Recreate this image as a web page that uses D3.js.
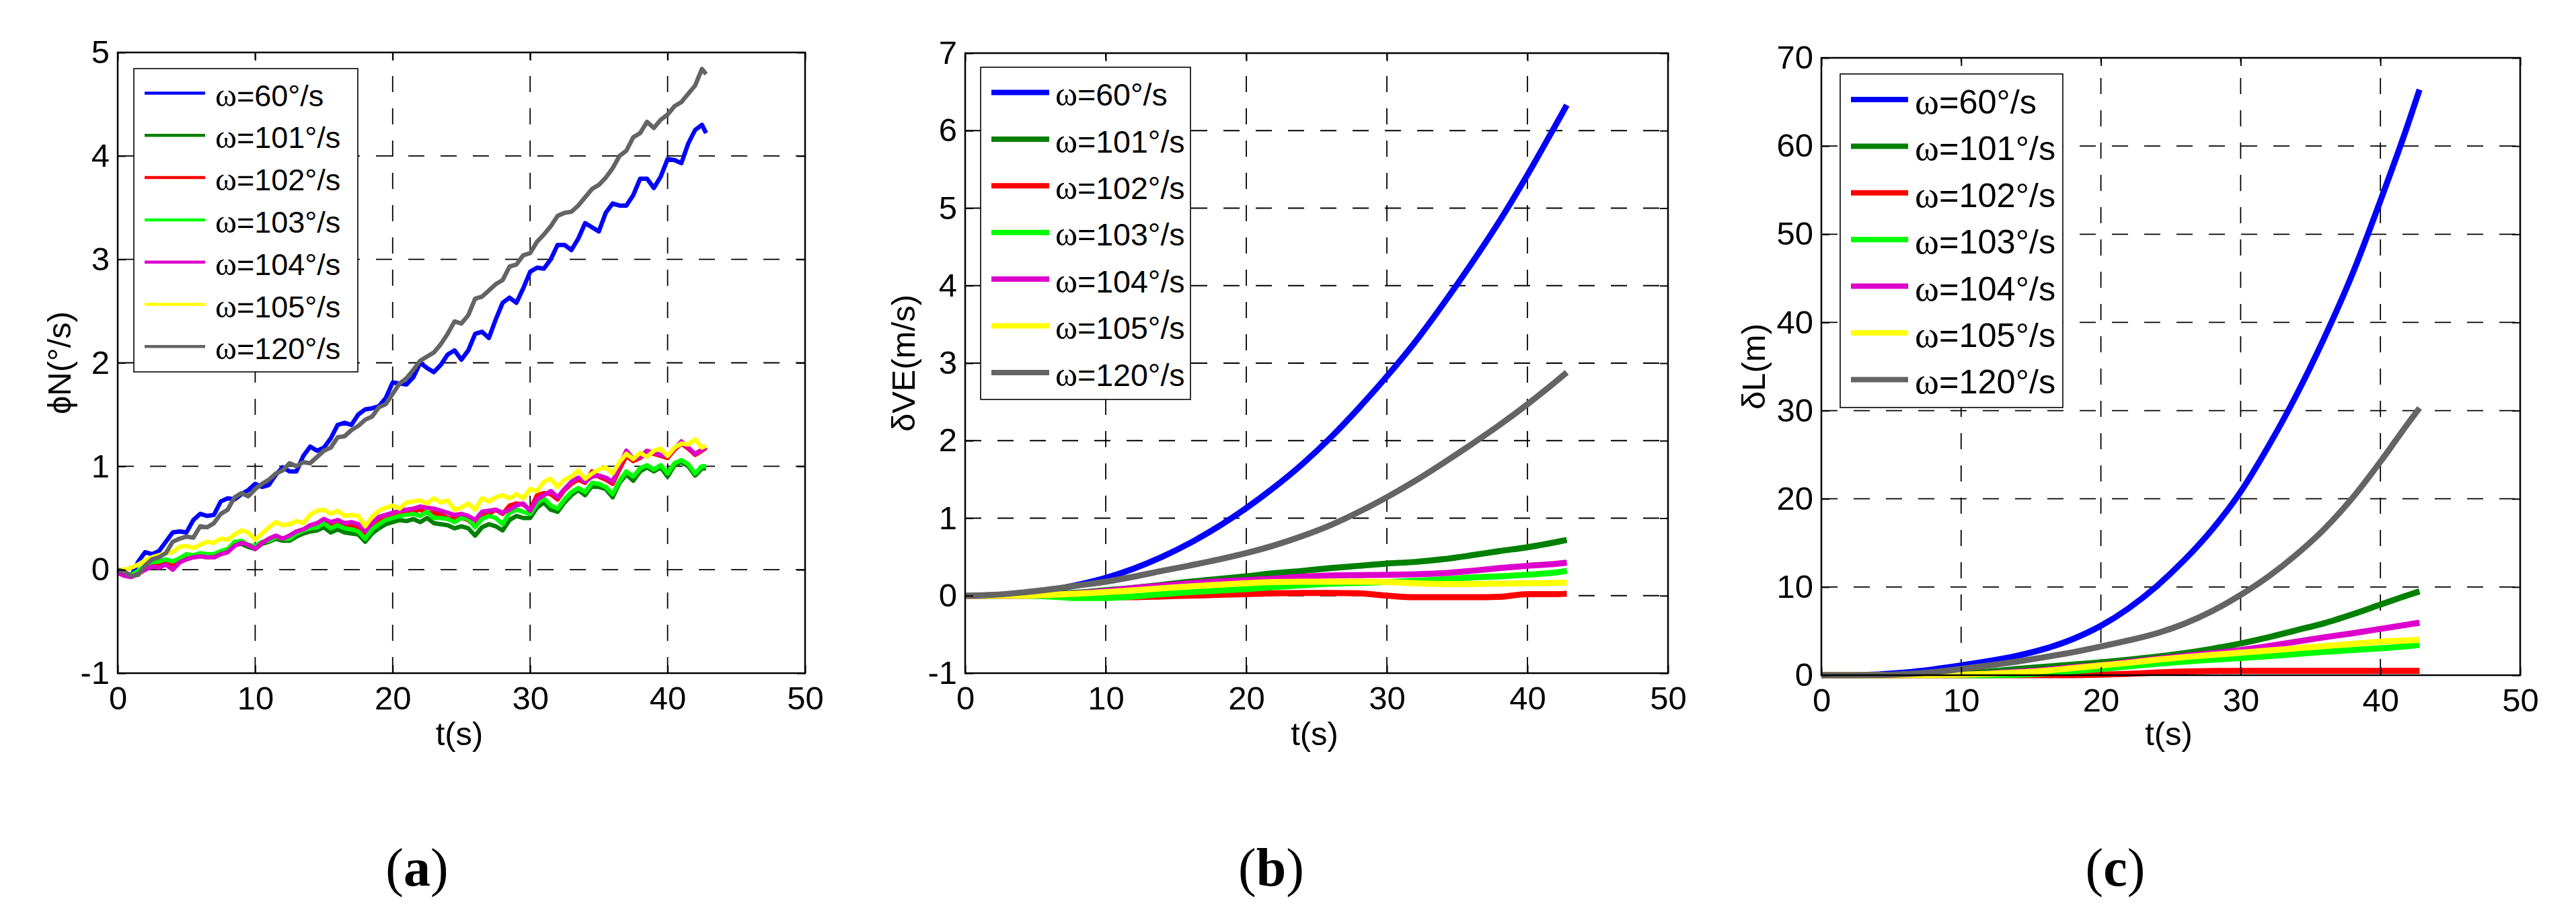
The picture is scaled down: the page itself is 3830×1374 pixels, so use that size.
<!DOCTYPE html>
<html>
<head>
<meta charset="utf-8">
<script src="https://cdn.jsdelivr.net/npm/d3@7"></script>
<style>
  body { margin: 0; background: #fff; }
  svg text { font-family: "Liberation Sans", Arial, sans-serif; fill: #000; }
</style>
</head>
<body>
<div id="chart"></div>
<script>
// series labels / colours (same order in every panel)
const seriesLabels = ["=60°/s", "=101°/s", "=102°/s", "=103°/s", "=104°/s", "=105°/s", "=120°/s"];
const seriesColors = ["#0000ff", "#008000", "#ff0000", "#00ff00", "#dd00cc", "#ffff00", "#646464"];

const xTicks = [0, 10, 20, 30, 40, 50];
const yTicksA = [-1, 0, 1, 2, 3, 4, 5];
const yTicksB = [-1, 0, 1, 2, 3, 4, 5, 6, 7];
const yTicksC = [0, 10, 20, 30, 40, 50, 60, 70];

// (a) phiN, sampled every 0.5 s, last sample at 42.8 s
const tA = d3.range(0, 42.6, 0.5).concat([42.8]);

const phiN60 = [0.00,-0.05,-0.06,0.08,0.17,0.15,0.18,0.27,0.36,0.37,
  0.36,0.48,0.54,0.52,0.53,0.66,0.69,0.68,0.73,0.77,
  0.83,0.80,0.82,0.92,0.99,0.95,0.95,1.10,1.19,1.15,
  1.18,1.27,1.40,1.42,1.40,1.50,1.55,1.56,1.58,1.66,
  1.81,1.80,1.79,1.86,2.00,1.95,1.91,1.98,2.08,2.12,
  2.03,2.12,2.28,2.30,2.24,2.42,2.58,2.63,2.58,2.72,
  2.88,2.92,2.91,3.00,3.14,3.14,3.09,3.20,3.35,3.31,
  3.27,3.45,3.54,3.52,3.52,3.62,3.78,3.78,3.69,3.80,
  3.97,3.96,3.93,4.12,4.25,4.30,4.22];
const phiN101 = [-0.03,-0.05,-0.06,-0.03,0.02,0.05,0.06,0.08,0.06,0.09,
  0.12,0.12,0.14,0.12,0.12,0.15,0.18,0.24,0.25,0.22,
  0.20,0.25,0.27,0.30,0.28,0.28,0.32,0.35,0.37,0.38,
  0.41,0.36,0.39,0.36,0.35,0.34,0.27,0.35,0.40,0.44,
  0.46,0.48,0.47,0.49,0.46,0.50,0.45,0.44,0.43,0.40,
  0.42,0.40,0.33,0.41,0.44,0.42,0.38,0.48,0.52,0.50,
  0.50,0.60,0.65,0.58,0.56,0.65,0.72,0.77,0.72,0.81,
  0.80,0.78,0.70,0.84,0.92,0.86,0.95,0.99,0.95,0.99,
  0.90,1.01,1.04,1.00,0.91,0.98,0.98];
const phiN102 = [-0.03,-0.05,-0.06,-0.02,0.02,0.05,0.06,0.07,0.05,0.09,
  0.12,0.13,0.14,0.13,0.14,0.17,0.19,0.24,0.26,0.24,
  0.21,0.26,0.29,0.32,0.30,0.32,0.36,0.38,0.41,0.43,
  0.46,0.43,0.45,0.42,0.42,0.40,0.31,0.41,0.47,0.50,
  0.52,0.53,0.55,0.56,0.58,0.55,0.55,0.53,0.50,0.49,
  0.50,0.48,0.42,0.52,0.54,0.58,0.54,0.62,0.64,0.63,
  0.58,0.72,0.74,0.73,0.68,0.77,0.83,0.87,0.84,0.95,
  0.90,0.87,0.83,0.97,1.10,1.05,1.08,1.13,1.12,1.10,
  1.08,1.16,1.22,1.17,1.11,1.15,1.18];
const phiN103 = [-0.02,-0.04,-0.05,-0.01,0.04,0.07,0.08,0.10,0.08,0.11,
  0.15,0.14,0.16,0.15,0.15,0.18,0.20,0.27,0.28,0.24,
  0.23,0.27,0.28,0.32,0.30,0.30,0.35,0.38,0.40,0.41,
  0.45,0.40,0.43,0.40,0.39,0.37,0.30,0.39,0.44,0.48,
  0.50,0.52,0.53,0.54,0.52,0.56,0.50,0.50,0.49,0.46,
  0.50,0.49,0.41,0.49,0.52,0.50,0.44,0.55,0.58,0.56,
  0.54,0.64,0.69,0.62,0.59,0.68,0.75,0.79,0.75,0.84,
  0.83,0.80,0.73,0.86,0.95,0.90,0.98,1.01,0.97,1.01,
  0.93,1.03,1.06,1.02,0.93,1.00,1.00];
const phiN104 = [-0.03,-0.06,-0.07,-0.04,0.00,0.03,0.02,0.05,0.00,0.07,
  0.10,0.12,0.13,0.12,0.12,0.15,0.17,0.23,0.26,0.24,
  0.20,0.26,0.30,0.33,0.30,0.33,0.37,0.39,0.43,0.45,
  0.49,0.46,0.48,0.45,0.46,0.44,0.37,0.45,0.51,0.53,
  0.55,0.57,0.58,0.59,0.61,0.60,0.59,0.57,0.55,0.53,
  0.54,0.52,0.48,0.56,0.57,0.58,0.55,0.58,0.62,0.64,
  0.57,0.68,0.72,0.76,0.70,0.78,0.85,0.89,0.85,0.90,
  0.91,0.89,0.85,1.01,1.15,1.07,1.09,1.15,1.13,1.11,
  1.10,1.17,1.24,1.18,1.12,1.16,1.19];
const phiN105 = [0.00,0.00,0.02,0.05,0.09,0.12,0.14,0.16,0.17,0.22,
  0.23,0.21,0.24,0.27,0.26,0.30,0.29,0.34,0.38,0.36,
  0.29,0.35,0.41,0.46,0.43,0.44,0.47,0.45,0.53,0.57,
  0.58,0.54,0.57,0.52,0.53,0.52,0.42,0.51,0.57,0.60,
  0.62,0.59,0.65,0.66,0.67,0.64,0.69,0.65,0.67,0.58,
  0.60,0.64,0.58,0.69,0.66,0.70,0.72,0.69,0.73,0.69,
  0.78,0.76,0.85,0.88,0.80,0.87,0.90,0.96,0.88,0.93,
  0.97,0.99,0.93,1.04,1.12,1.07,1.13,1.09,1.15,1.17,
  1.10,1.18,1.22,1.21,1.26,1.18,1.20];
const phiN120 = [0.00,-0.02,-0.06,-0.05,0.04,0.10,0.12,0.16,0.27,0.30,
  0.32,0.31,0.42,0.41,0.45,0.54,0.58,0.70,0.74,0.71,
  0.78,0.83,0.87,0.93,0.96,1.03,1.00,1.04,1.03,1.09,
  1.15,1.18,1.28,1.29,1.35,1.39,1.45,1.48,1.57,1.60,
  1.70,1.80,1.85,1.93,2.02,2.06,2.10,2.18,2.28,2.40,
  2.38,2.46,2.62,2.64,2.70,2.76,2.80,2.93,2.95,3.04,
  3.06,3.17,3.24,3.32,3.42,3.45,3.46,3.52,3.60,3.68,
  3.72,3.79,3.88,4.00,4.05,4.18,4.22,4.33,4.27,4.35,
  4.40,4.48,4.52,4.60,4.68,4.84,4.79];

// (b) and (c) share the time samples
const tBC = [0,2,4,6,8,10,12,14,16,18,20,22,24,26,28,30,32,34,36,38,40,42,42.8];

const dVE60  = [0,0.005,0.03,0.07,0.14,0.23,0.35,0.50,0.68,0.89,1.13,1.40,1.70,2.04,2.42,2.83,3.27,3.76,4.28,4.83,5.43,6.07,6.33];
const dVE101 = [0,0,0.01,0.02,0.04,0.07,0.10,0.14,0.18,0.215,0.25,0.29,0.32,0.355,0.385,0.415,0.435,0.47,0.52,0.575,0.625,0.69,0.72];
const dVE102 = [0,0,0,0,-0.01,-0.015,-0.02,-0.01,0,0.01,0.02,0.03,0.035,0.035,0.03,0,-0.02,-0.02,-0.02,-0.015,0.02,0.02,0.025];
const dVE103 = [0,0,0,-0.01,-0.03,-0.03,-0.01,0.02,0.045,0.065,0.085,0.11,0.135,0.155,0.165,0.175,0.19,0.21,0.235,0.25,0.27,0.30,0.32];
const dVE104 = [0,0,0,0.01,0.03,0.06,0.10,0.13,0.16,0.185,0.20,0.22,0.245,0.26,0.265,0.27,0.275,0.29,0.32,0.355,0.385,0.41,0.425];
const dVE105 = [0,0,0,0.01,0.025,0.045,0.07,0.095,0.12,0.14,0.16,0.175,0.18,0.18,0.18,0.175,0.16,0.15,0.15,0.155,0.16,0.165,0.17];
const dVE120 = [0,0.01,0.04,0.08,0.13,0.18,0.245,0.32,0.39,0.465,0.55,0.65,0.77,0.91,1.08,1.27,1.48,1.71,1.95,2.20,2.47,2.76,2.88];

const dL60  = [0,0,0.08,0.3,0.65,1.1,1.6,2.2,3.0,4.1,5.6,7.6,10.1,13.1,16.6,20.8,26.0,31.8,38.3,45.5,53.8,62.6,66.4];
const dL101 = [0,0,0,0,0.05,0.2,0.4,0.7,0.95,1.2,1.45,1.75,2.1,2.5,3.0,3.6,4.3,5.1,5.9,6.9,8.0,9.1,9.5];
const dL102 = [0,0,0,0,0,0,0,0,0,0,0.05,0.15,0.3,0.42,0.48,0.5,0.5,0.5,0.5,0.5,0.5,0.5,0.5];
const dL103 = [0,0,0,0,0,0,0,0.05,0.2,0.45,0.7,1.0,1.3,1.55,1.75,1.95,2.15,2.4,2.65,2.85,3.05,3.3,3.45];
const dL104 = [0,0,0,0,0,0.05,0.2,0.4,0.6,0.9,1.15,1.5,1.85,2.2,2.5,2.85,3.3,3.8,4.3,4.75,5.25,5.75,5.95];
const dL105 = [0,0,0,0,0,0.05,0.15,0.3,0.5,0.8,1.1,1.4,1.75,2.05,2.3,2.55,2.8,3.05,3.3,3.55,3.8,3.95,4.0];
const dL120 = [0,0,0.02,0.12,0.35,0.7,1.1,1.55,2.05,2.6,3.25,3.95,4.75,5.85,7.3,9.1,11.2,13.7,16.6,20.1,24.2,28.6,30.3];

const W = 3830, H = 1374;

const panels = [
  {
    caption: "a", captionX: 620, yLabel: "ϕN(°/s)", yLabelX: 105,
    box: { left: 175, right: 1197, top: 78, bottom: 1001 },
    yDomain: [-1, 5], yTicks: yTicksA,
    t: tA, series: [phiN60, phiN101, phiN102, phiN103, phiN104, phiN105, phiN120],
    lineWidth: 6.5, curve: d3.curveLinear,
    legend: { left: 199, top: 102, width: 333, height: 451, row0: 138.5, step: 62.8,
              lx0: 215, lx1: 305, tx: 320, fontSize: 45, lw: 4.5 }
  },
  {
    caption: "b", captionX: 1890, yLabel: "δVE(m/s)", yLabelX: 1360,
    box: { left: 1435, right: 2480, top: 79, bottom: 1001 },
    yDomain: [-1, 7], yTicks: yTicksB,
    t: tBC, series: [dVE60, dVE101, dVE102, dVE103, dVE104, dVE105, dVE120],
    lineWidth: 9, curve: d3.curveMonotoneX,
    legend: { left: 1458, top: 100, width: 312, height: 494, row0: 137.5, step: 69.4,
              lx0: 1474, lx1: 1560, tx: 1569, fontSize: 46.5, lw: 8 }
  },
  {
    caption: "c", captionX: 3145, yLabel: "δL(m)", yLabelX: 2624,
    box: { left: 2708, right: 3747, top: 86, bottom: 1004 },
    yDomain: [0, 70], yTicks: yTicksC,
    t: tBC, series: [dL60, dL101, dL102, dL103, dL104, dL105, dL120],
    lineWidth: 9, curve: d3.curveMonotoneX,
    legend: { left: 2736, top: 110, width: 331, height: 496, row0: 148, step: 69.4,
              lx0: 2752, lx1: 2837, tx: 2847, fontSize: 50.5, lw: 8 }
  }
];

const svg = d3.select("#chart").append("svg")
  .attr("width", W).attr("height", H)
  .attr("viewBox", `0 0 ${W} ${H}`);

svg.append("rect").attr("width", W).attr("height", H).attr("fill", "#fff");

function styleAxis(sel, fontSize) {
  sel.attr("font-size", fontSize).attr("font-family", null);
  sel.select(".domain").remove();
  sel.selectAll(".tick line").attr("stroke", "#000").attr("stroke-width", 2);
  sel.selectAll(".tick text").attr("fill", "#000");
}

const plainNum = d => String(d);

function drawPanel(p) {
  const b = p.box;
  const x = d3.scaleLinear().domain([0, 50]).range([b.left, b.right]);
  const y = d3.scaleLinear().domain(p.yDomain).range([b.bottom, b.top]);
  const g = svg.append("g");

  // dashed grid at the inner ticks
  const grid = g.append("g").attr("stroke", "#000").attr("stroke-width", 1.8)
    .attr("stroke-dasharray", "24,24");
  grid.selectAll(".gx").data(xTicks.slice(1, -1)).join("line")
    .attr("x1", d => x(d)).attr("x2", d => x(d))
    .attr("y1", b.bottom).attr("y2", b.top);
  grid.selectAll(".gy").data(p.yTicks.slice(1, -1)).join("line")
    .attr("x1", b.left).attr("x2", b.right)
    .attr("y1", d => y(d)).attr("y2", d => y(d));

  // data lines, drawn in legend order so the later ones sit on top
  const line = d3.line()
    .x((d, i) => x(p.t[i]))
    .y(d => y(d))
    .curve(p.curve);

  g.append("g").selectAll("path").data(p.series).join("path")
    .attr("d", line)
    .attr("fill", "none")
    .attr("stroke", (d, i) => seriesColors[i])
    .attr("stroke-width", p.lineWidth)
    .attr("stroke-linejoin", "round");

  // axes with inward ticks on all four sides
  g.append("g").attr("transform", `translate(0,${b.bottom})`)
    .call(d3.axisBottom(x).tickValues(xTicks).tickFormat(plainNum)
      .tickSizeInner(-12).tickSizeOuter(0).tickPadding(19))
    .call(a => styleAxis(a, 49));
  g.append("g").attr("transform", `translate(${b.left},0)`)
    .call(d3.axisLeft(y).tickValues(p.yTicks).tickFormat(plainNum)
      .tickSizeInner(-12).tickSizeOuter(0).tickPadding(12))
    .call(a => styleAxis(a, 49));
  g.append("g").attr("transform", `translate(0,${b.top})`)
    .call(d3.axisTop(x).tickValues(xTicks).tickSizeInner(-12).tickSizeOuter(0).tickFormat(""))
    .call(a => styleAxis(a, 49));
  g.append("g").attr("transform", `translate(${b.right},0)`)
    .call(d3.axisRight(y).tickValues(p.yTicks).tickSizeInner(-12).tickSizeOuter(0).tickFormat(""))
    .call(a => styleAxis(a, 49));

  g.append("rect")
    .attr("x", b.left).attr("y", b.top)
    .attr("width", b.right - b.left).attr("height", b.bottom - b.top)
    .attr("fill", "none").attr("stroke", "#000").attr("stroke-width", 2.5);

  // axis titles
  g.append("text")
    .attr("x", (b.left + b.right) / 2 - 3).attr("y", 1108)
    .attr("text-anchor", "middle").attr("font-size", 49)
    .text("t(s)");

  g.append("text")
    .attr("transform", `translate(${p.yLabelX},${(b.top + b.bottom) / 2}) rotate(-90)`)
    .attr("text-anchor", "middle").attr("font-size", 49)
    .text(p.yLabel);

  // legend
  const L = p.legend;
  const leg = g.append("g");
  leg.append("rect")
    .attr("x", L.left).attr("y", L.top).attr("width", L.width).attr("height", L.height)
    .attr("fill", "#fff").attr("stroke", "#000").attr("stroke-width", 1.6);

  const rows = leg.selectAll(".row").data(seriesLabels).join("g")
    .attr("transform", (d, i) => `translate(0,${L.row0 + i * L.step})`);
  rows.append("line")
    .attr("x1", L.lx0).attr("x2", L.lx1)
    .attr("stroke", (d, i) => seriesColors[i]).attr("stroke-width", L.lw);
  const txt = rows.append("text")
    .attr("x", L.tx).attr("y", 3 + 0.358 * L.fontSize)
    .attr("font-size", L.fontSize);
  // the omega comes from a serif (symbol-like) face in the original
  txt.append("tspan")
    .style("font-family", '"Liberation Serif", "Times New Roman", serif')
    .attr("font-size", L.fontSize * 1.08)
    .text("ω");
  txt.append("tspan").text(d => d);

  // sub-figure caption
  const cap = svg.append("text")
    .attr("x", p.captionX).attr("y", 1317)
    .attr("text-anchor", "middle")
    .style("font-family", '"Liberation Serif", "Times New Roman", serif')
    .attr("font-size", 80);
  cap.append("tspan").text("(");
  cap.append("tspan").attr("font-weight", "bold").text(p.caption);
  cap.append("tspan").text(")");
}

panels.forEach(drawPanel);
</script>
</body>
</html>
